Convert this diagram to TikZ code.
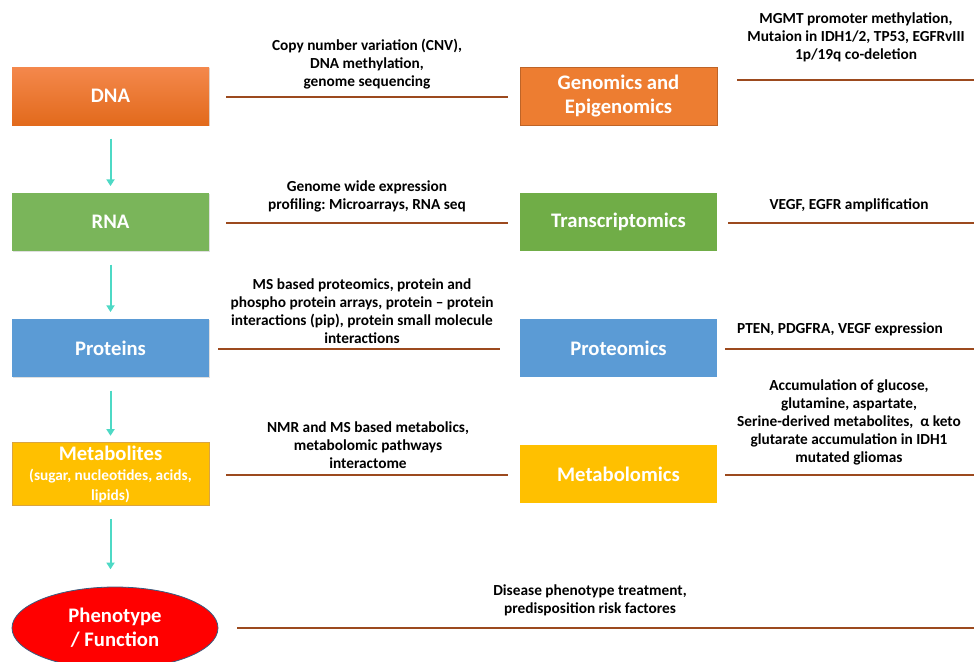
\documentclass[tikz,border=0pt]{standalone}
\usepackage{fontspec}
\setmainfont{Carlito}
\frenchspacing
\usetikzlibrary{arrows.meta,shadows,shapes.geometric}
\definecolor{brownline}{HTML}{9C4A1E}
\definecolor{flowcol}{HTML}{4DD9C5}
\definecolor{orA}{HTML}{F4884C}
\definecolor{orB}{HTML}{E26A1C}
\definecolor{orR}{HTML}{ED7D31}
\definecolor{grL}{HTML}{7AB55A}
\definecolor{grR}{HTML}{70AD47}
\definecolor{blL}{HTML}{5B9BD5}
\definecolor{ylw}{HTML}{FFC000}
\definecolor{ylwB}{HTML}{D9A441}
\tikzset{
  box/.style={minimum width=147.75pt, minimum height=43.5pt, inner sep=2pt,
    text=white, font=\fontsize{15.5}{18}\selectfont\bfseries, align=center},
  lbox/.style={box, drop shadow={opacity=0.25, shadow xshift=0.8pt, shadow yshift=-0.8pt}},
  lbl/.style={font=\fontsize{11.5}{13.5}\selectfont\bfseries, align=center, inner sep=0pt},
  rule/.style={draw=brownline, line width=1.5pt},
  flow/.style={draw=flowcol, line width=1.5pt, -{Triangle[width=6pt,length=5pt]}, shorten <=10pt, shorten >=5pt}
}
\begin{document}
\begin{tikzpicture}[x=0.75pt,y=-0.75pt]
\useasboundingbox (0,0) rectangle (974,661);
\clip (0,0) rectangle (974,661);
\fill[white] (0,0) rectangle (974,661);
% left column
\node[lbox, top color=orA, bottom color=orB] (dna) at (110.5,96) {DNA};
\node[lbox, fill=grL] (rna) at (110.5,222) {RNA};
\node[lbox, fill=blL] (prot) at (110.5,348) {Proteins};
\node[lbox, fill=ylw, draw=ylwB, line width=0.6pt] (met) at (110.5,474) {Metabolites\\[-3pt]{\fontsize{11.5}{13}\selectfont (sugar, nucleotides, acids,}\\[-3pt]{\fontsize{11.5}{13}\selectfont lipids)}};
\node[ellipse, draw=blL!60!black, line width=0.6pt, fill=red, minimum width=154.5pt, minimum height=61.5pt, text=white, font=\fontsize{15.5}{18}\selectfont\bfseries, align=center] (phen) at (115,628) {Phenotype\\/ Function};
% right column
\node[box, fill=orR, draw=orR!80!black, line width=0.4pt] (gen) at (618.5,96) {Genomics and\\Epigenomics};
\node[box, fill=grR] (tra) at (618.5,222) {Transcriptomics};
\node[box, fill=blL] (pro) at (618.5,348) {Proteomics};
\node[box, fill=ylw] (mtb) at (618.5,474) {Metabolomics};
% arrows
\draw[flow] (dna) -- (rna);
\draw[flow] (rna) -- (prot);
\draw[flow] (prot) -- (met);
\draw[flow, shorten >=13pt] (met.south) -- (met.south |- phen.north);
% rules
\coordinate (a1) at (226,97); \coordinate (a2) at (508,97);
\coordinate (b1) at (737,80); \coordinate (b2) at (974,80);
\coordinate (c1) at (226,223); \coordinate (c2) at (508,223);
\coordinate (d1) at (728,223); \coordinate (d2) at (974,223);
\coordinate (e1) at (218,349); \coordinate (e2) at (500,349);
\coordinate (f1) at (725,349); \coordinate (f2) at (974,349);
\coordinate (g1) at (226,475); \coordinate (g2) at (508,475);
\coordinate (h1) at (725,475); \coordinate (h2) at (974,475);
\coordinate (i1) at (237,628); \coordinate (i2) at (974,628);
\draw[rule] (a1) -- (a2); \draw[rule] (b1) -- (b2);
\draw[rule] (c1) -- (c2); \draw[rule] (d1) -- (d2);
\draw[rule] (e1) -- (e2); \draw[rule] (f1) -- (f2);
\draw[rule] (g1) -- (g2); \draw[rule] (h1) -- (h2);
\draw[rule] (i1) -- (i2);
% labels
\node[lbl] (t1) at (367,64) {Copy number variation (CNV),\\DNA methylation,\\genome sequencing};
\node[lbl] (t2) at (856,37) {MGMT promoter methylation,\\Mutaion in IDH1/2, TP53, EGFRvIII\\1p/19q co-deletion};
\node[lbl] (t3) at (367,196) {Genome wide expression\\profiling: Microarrays, RNA seq};
\node[lbl] (t4) at (849,205) {VEGF, EGFR amplification};
\node[lbl] (t5) at (362,311) {MS based proteomics, protein and\\phospho protein arrays, protein -- protein\\interactions (pip), protein small molecule\\interactions};
\node[lbl] (t6) at (840,329) {PTEN, PDGFRA, VEGF expression};
\node[lbl] (t7) at (368,445) {NMR and MS based metabolics,\\metabolomic pathways\\interactome};
\node[lbl] (t8) at (849,422) {Accumulation of glucose,\\glutamine, aspartate,\\Serine-derived metabolites,~ α keto\\glutarate accumulation in IDH1\\mutated gliomas};
\node[lbl] (t9) at (590,600) {Disease phenotype treatment,\\predisposition risk factores};
\end{tikzpicture}
\end{document}
